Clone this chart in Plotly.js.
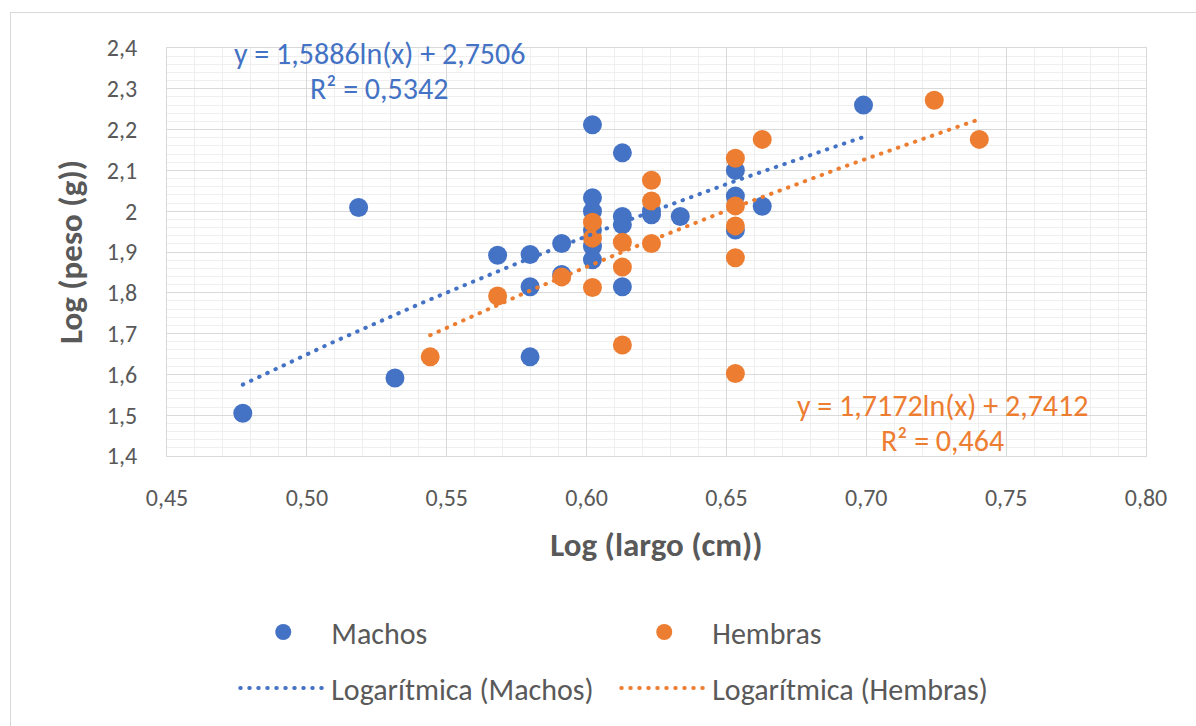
<!DOCTYPE html>
<html>
<head>
<meta charset="utf-8">
<script src="https://cdn.plot.ly/plotly-3.0.1.min.js"></script>
<style>
  html, body { margin: 0; padding: 0; background: #ffffff; }
  #wrap { position: relative; width: 1196px; height: 726px; overflow: hidden; }
  #chart { position: absolute; left: 0; top: 0; width: 1196px; height: 726px; }
  #frame { position: absolute; left: 10px; top: 12px; width: 1200px; height: 730px;
           border: 1px solid #d9d9d9; pointer-events: none; }
  #chart .scatterlayer .js-line, #chart .legendlines path { stroke-linecap: round; }
</style>
</head>
<body>
<div id="wrap"><div id="chart"></div><div id="frame"></div></div>
<script>
// ---- data ----
var machosX = [0.4771, 0.5185, 0.5315, 0.5682, 0.5798, 0.5798, 0.5798, 0.5911, 0.5911,
               0.6021, 0.6021, 0.6021, 0.6021, 0.6021, 0.6021,
               0.6128, 0.6128, 0.6128, 0.6128,
               0.6232, 0.6232, 0.6335,
               0.6532, 0.6532, 0.6532, 0.6628, 0.6990];
var machosY = [1.505, 2.009, 1.591, 1.892, 1.894, 1.815, 1.643, 1.921, 1.845,
               2.212, 2.033, 2.000, 1.954, 1.914, 1.881,
               2.143, 1.987, 1.967, 1.815,
               2.000, 1.991, 1.987,
               2.100, 2.037, 1.954, 2.012, 2.260];

var hembrasX = [0.5441, 0.5682, 0.5911,
                0.6021, 0.6021, 0.6021,
                0.6128, 0.6128, 0.6128,
                0.6232, 0.6232, 0.6232,
                0.6532, 0.6532, 0.6532, 0.6532, 0.6532,
                0.6628, 0.7243, 0.7404];
var hembrasY = [1.643, 1.792, 1.839,
                1.973, 1.934, 1.813,
                1.924, 1.863, 1.672,
                2.076, 2.025, 1.921,
                2.130, 2.013, 1.964, 1.886, 1.602,
                2.176, 2.272, 2.176];

// trendline coefficients as printed on the chart: y = a ln(x) + b
var machosFit = {a: 1.5886, b: 2.7506, r2: '0,5342'};
var hembrasFit = {a: 1.7172, b: 2.7412, r2: '0,464'};

var xTicks = [0.45, 0.50, 0.55, 0.60, 0.65, 0.70, 0.75, 0.80];

var BLUE = '#4472C4', ORANGE = '#ED7D31', GREY = '#595959';
var FONT = 'Carlito, Lato, "Open Sans", sans-serif';

function trend(xs, fit) {
  var lo = Math.min.apply(null, xs), hi = Math.max.apply(null, xs);
  var n = 60, px = [], py = [];
  for (var i = 0; i <= n; i++) {
    var x = lo + (hi - lo) * i / n;
    px.push(x); py.push(fit.a * Math.log(x) + fit.b);
  }
  return {x: px, y: py};
}
var tM = trend(machosX, machosFit), tH = trend(hembrasX, hembrasFit);

var traces = [
  {x: machosX, y: machosY, mode: 'markers', name: 'Machos', legend: 'legend',
   marker: {color: BLUE, size: 19}},
  {x: hembrasX, y: hembrasY, mode: 'markers', name: 'Hembras', legend: 'legend',
   marker: {color: ORANGE, size: 19}},
  {x: tM.x, y: tM.y, mode: 'lines', name: 'Logarítmica (Machos)', legend: 'legend2',
   line: {color: BLUE, width: 4, dash: '0.5px,8.5px'}, hoverinfo: 'skip'},
  {x: tH.x, y: tH.y, mode: 'lines', name: 'Logarítmica (Hembras)', legend: 'legend2',
   line: {color: ORANGE, width: 4, dash: '0.5px,8.5px'}, hoverinfo: 'skip'}
];

var legendCommon = {
  orientation: 'h', xanchor: 'left', yanchor: 'middle',
  xref: 'container', yref: 'container',
  entrywidth: 280, entrywidthmode: 'pixels', itemwidth: 86,
  font: {family: FONT, size: 30, color: GREY},
  bgcolor: 'rgba(0,0,0,0)', traceorder: 'normal'
};

var layout = {
  width: 1196, height: 726,
  margin: {l: 167, r: 50, t: 48, b: 270},
  paper_bgcolor: '#ffffff', plot_bgcolor: '#ffffff',
  separators: ',.',
  font: {family: FONT, color: GREY},
  showlegend: true,
  legend: Object.assign({}, legendCommon, {x: 0.1967, y: 0.1295}),
  legend2: Object.assign({}, legendCommon, {x: 0.1967, y: 0.0523}),
  xaxis: {
    range: [0.45, 0.80], tickvals: xTicks, tickformat: '.2f',
    showgrid: true, gridcolor: '#d9d9d9', gridwidth: 1,
    minor: {dtick: 0.01, showgrid: true, gridcolor: '#efefef', gridwidth: 1},
    zeroline: false, showline: true, linecolor: '#d9d9d9', mirror: true,
    ticks: '', ticklabelstandoff: 20,
    tickfont: {family: FONT, size: 24, color: GREY},
    title: {text: 'Log (largo (cm))', font: {family: FONT, size: 33, color: GREY, weight: 'bold'}, standoff: 22}
  },
  yaxis: {
    range: [1.4, 2.4], dtick: 0.1,
    showgrid: true, gridcolor: '#d9d9d9', gridwidth: 1,
    minor: {dtick: 0.02, showgrid: true, gridcolor: '#efefef', gridwidth: 1},
    zeroline: false, showline: true, linecolor: '#d9d9d9', mirror: true,
    ticks: '', ticklabelstandoff: 24,
    tickfont: {family: FONT, size: 24, color: GREY},
    title: {text: 'Log (peso (g))', font: {family: FONT, size: 33, color: GREY, weight: 'bold'}, standoff: 14}
  },
  annotations: [
    {xref: 'paper', yref: 'paper', x: 0.2166, y: 0.9877, text: 'y = 1,5886ln(x) + 2,7506',
     showarrow: false, font: {family: FONT, size: 30, color: BLUE}, xanchor: 'center', yanchor: 'middle'},
    {xref: 'paper', yref: 'paper', x: 0.2166, y: 0.900, text: 'R² = ' + machosFit.r2,
     showarrow: false, font: {family: FONT, size: 30, color: BLUE}, xanchor: 'center', yanchor: 'middle'},
    {xref: 'paper', yref: 'paper', x: 0.7926, y: 0.125, text: 'y = 1,7172ln(x) + 2,7412',
     showarrow: false, font: {family: FONT, size: 30, color: ORANGE}, xanchor: 'center', yanchor: 'middle'},
    {xref: 'paper', yref: 'paper', x: 0.7926, y: 0.037, text: 'R² = ' + hembrasFit.r2,
     showarrow: false, font: {family: FONT, size: 30, color: ORANGE}, xanchor: 'center', yanchor: 'middle'}
  ]
};

Plotly.newPlot('chart', traces, layout, {displayModeBar: false, staticPlot: true});
</script>
</body>
</html>
